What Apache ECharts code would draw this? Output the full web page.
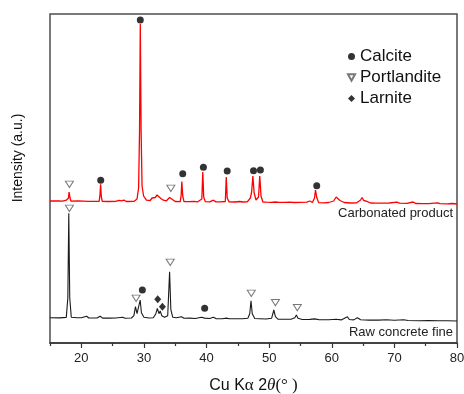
<!DOCTYPE html>
<html>
<head>
<meta charset="utf-8">
<script src="https://cdn.jsdelivr.net/npm/echarts@6/dist/echarts.min.js"></script>
<style>
  html, body { margin: 0; padding: 0; background: #fff; }
  #chart { width: 464px; height: 394px; }
</style>
</head>
<body>
<div id="chart"></div>
<script>
// XRD patterns, [2theta, intensity (a.u.)], intensity relative to each trace's own baseline
const carbonatedPattern = [
  [15, 0], [16.4, 2], [17.0, -1], [17.6, 8], [17.8, -1], [17.95, 30], [18.05, 90], [18.2, 30], [18.35, -2],
  [19.5, 0], [20.4, -1], [20.7, 10], [21.0, -3], [22.2, -3], [22.85, -4], [22.98, 60], [23.08, 168], [23.2, 40], [23.35, -4],
  [24.3, -5], [25.5, -4], [26.0, 6], [26.4, 2], [26.8, 8], [27.2, -5], [28.4, -4], [28.9, 20], [29.15, 130], [29.3, 700],
  [29.42, 1770], [29.55, 700], [29.7, 150], [29.95, 50], [30.4, 8], [31.0, 5], [31.3, 30], [31.5, 20], [31.8, 35],
  [32.1, 60], [32.4, 50], [32.7, 25], [33.1, 8], [33.6, 2], [34.1, 35], [34.4, 15], [35.0, -5], [35.8, -7],
  [35.95, 60], [36.05, 195], [36.2, 50], [36.4, -6], [37.2, -6], [38.0, -4], [38.6, -8], [39.25, 20], [39.4, 290],
  [39.55, 40], [39.8, -6], [40.5, -9], [41.1, 8], [41.5, -9], [42.2, -9], [43.0, -5], [43.15, 240], [43.3, 30],
  [43.6, -9], [44.5, -10], [45.3, -5], [45.8, -10], [46.5, -8], [47.0, 30], [47.2, 90], [47.4, 250], [47.6, 80],
  [47.9, 10], [48.3, 40], [48.5, 250], [48.7, 50], [49.0, -10], [49.6, -12], [50.3, -13], [51.0, -10], [51.6, -14],
  [52.5, -14], [53.3, -12], [54.0, -15], [55.0, -14], [56.0, -12], [56.5, 0], [56.9, -15], [57.25, 30], [57.4, 110],
  [57.6, 35], [57.9, -16], [58.8, -18], [59.5, -15], [60.3, 0], [60.7, 40], [61.0, 20], [61.3, 5], [61.6, 10],
  [62.0, -15], [63.0, -20], [64.0, -18], [64.6, 10], [64.85, 35], [65.1, 5], [65.5, -2], [65.75, 5], [66.2, -20],
  [67.0, -21], [68.0, -22], [69.2, -20], [70.4, -12], [70.8, -22], [72.0, -24], [73.0, -10], [73.4, -25],
  [74.5, -27], [75.5, -26], [76.9, -18], [77.3, -27], [78.5, -29], [79.2, -25], [80, -30]
];
const rawPattern = [
  [15, 0], [16.5, -2], [17.6, 3], [17.85, 200], [18.0, 1044], [18.15, 200], [18.4, 5], [19.3, -1], [20.0, 0],
  [20.85, 15], [21.2, -3], [22.5, -3], [23.0, 15], [23.4, -4], [24.5, -4], [25.5, -3], [26.6, 5], [27.0, -5],
  [28.0, -3], [28.4, 20], [28.65, 110], [28.9, 40], [29.1, 40], [29.4, 177], [29.6, 50], [30.0, 5], [30.8, -3],
  [31.5, 0], [31.9, 40], [32.15, 94], [32.4, 40], [32.6, 67], [32.85, 20], [33.3, 5], [33.8, 20], [34.1, 460],
  [34.3, 80], [34.6, 5], [35.2, 0], [36.0, 10], [36.4, -5], [37.3, -4], [38.2, -8], [39.2, 5], [39.45, 25],
  [39.7, -4], [40.5, -8], [41.1, 5], [41.5, -9], [42.5, -10], [43.2, -4], [43.6, -11], [44.6, -10], [45.7, -10],
  [46.6, -5], [46.9, 40], [47.1, 170], [47.3, 40], [47.7, -8], [48.5, -10], [49.5, -13], [50.4, -5], [50.75, 77],
  [51.0, 10], [51.4, -14], [52.5, -15], [53.5, -16], [54.1, 0], [54.35, 27], [54.6, -5], [55.3, -18], [56.5, -17],
  [57.3, -12], [58.0, -20], [59.5, -20], [60.7, -15], [61.5, -22], [62.5, 10], [62.8, -18], [63.5, -22], [64.1, 0],
  [64.3, 10], [64.6, -20], [66.0, -24], [67.5, -24], [68.7, -20], [70.0, -26], [71.5, -20], [71.8, -16], [72.2, -28],
  [74.0, -30], [75.5, -29], [77.0, -31], [78.5, -31], [80, -33]
];

// phase markers, [2theta, intensity] on the same scale as the pattern they sit over
const calciteCarbonated = [[23.1, 207], [29.42, 1810], [36.2, 273], [39.5, 337], [43.3, 300], [47.5, 303], [48.6, 310], [57.6, 153]];
const calciteRaw = [[29.75, 277], [39.7, 94]];
const portlanditeCarbonated = [[18.1, 167], [34.3, 127]];
const portlanditeRaw = [[18.1, 1094], [28.75, 194], [34.2, 554], [47.15, 244], [51.0, 150], [54.5, 100]];
const larniteRaw = [[32.2, 184], [32.95, 110]];

const carbonatedOffset = 1420;
const rawOffset = 253;

const majorTicks = [20, 30, 40, 50, 60, 70, 80];
const minorTicks = [15, 25, 35, 45, 55, 65, 75];

const shift = (arr, off) => arr.map(p => [p[0], p[1] + off]);

const chart = echarts.init(document.getElementById('chart'));
chart.setOption({
  animation: false,
  grid: {
    left: 50, right: 7, top: 14, bottom: 51,
    outerBoundsMode: 'none',
    show: true, borderColor: '#4d4d4d', borderWidth: 1.5
  },
  legend: {
    orient: 'vertical',
    left: 342, top: 43,
    itemWidth: 7, itemHeight: 7, itemGap: 4, itemTextGap: 12,
    textStyle: { fontFamily: 'Liberation Sans', fontSize: 17, color: '#111' },
    data: ['Calcite', 'Portlandite', 'Larnite']
  },
  xAxis: [
    {
      type: 'value', min: 15, max: 80, position: 'bottom',
      name: '{a|Cu K}{b|α}{a| 2}{c|θ}{b|(° )}',
      nameLocation: 'middle', nameGap: 34,
      nameTextStyle: {
        rich: {
          a: { fontFamily: 'Liberation Sans', fontSize: 16, color: '#111' },
          b: { fontFamily: 'Liberation Serif', fontSize: 17, color: '#111' },
          c: { fontFamily: 'Liberation Serif', fontStyle: 'italic', fontSize: 17, color: '#111' }
        }
      },
      axisLine: { lineStyle: { color: '#333', width: 1.5 } },
      axisTick: { customValues: majorTicks, length: 5, lineStyle: { color: '#333', width: 1.2 } },
      axisLabel: {
        customValues: majorTicks, margin: 9,
        fontFamily: 'Liberation Sans', fontSize: 13, color: '#222'
      },
      splitLine: { show: false }
    },
    {
      type: 'value', min: 15, max: 80, position: 'bottom',
      axisLine: { show: false },
      axisTick: { customValues: minorTicks, length: 3, lineStyle: { color: '#333', width: 1.2 } },
      axisLabel: { show: false },
      splitLine: { show: false }
    }
  ],
  yAxis: {
    type: 'value', min: 0, max: 3290,
    axisLine: { show: false }, axisTick: { show: false },
    axisLabel: { show: false }, splitLine: { show: false }
  },
  graphic: [
    {
      type: 'text', x: 18, y: 158, rotation: Math.PI / 2,
      style: { text: 'Intensity (a.u.)', align: 'center', verticalAlign: 'middle',
        font: '14px "Liberation Sans"', fill: '#111' }
    },
    {
      type: 'text', x: 453, y: 213,
      style: { text: 'Carbonated product', align: 'right', verticalAlign: 'middle',
        font: '13px "Liberation Sans"', fill: '#222' }
    },
    {
      type: 'text', x: 453, y: 332,
      style: { text: 'Raw concrete fine', align: 'right', verticalAlign: 'middle',
        font: '13px "Liberation Sans"', fill: '#222' }
    }
  ],
  series: [
    {
      name: 'Carbonated product', type: 'line', showSymbol: false,
      lineStyle: { color: '#ff0000', width: 1.3 },
      data: shift(carbonatedPattern, carbonatedOffset)
    },
    {
      name: 'Raw concrete fine', type: 'line', showSymbol: false,
      lineStyle: { color: '#1a1a1a', width: 1.1 },
      data: shift(rawPattern, rawOffset)
    },
    {
      name: 'Calcite', type: 'scatter', symbol: 'circle', symbolSize: 7,
      itemStyle: { color: '#000' },
      data: shift(calciteCarbonated, carbonatedOffset).concat(shift(calciteRaw, rawOffset))
    },
    {
      name: 'Portlandite', type: 'scatter', symbol: 'path://M0,0L10,0L5,9Z', symbolSize: [8, 7],
      symbolKeepAspect: true,
      itemStyle: { color: '#fff', borderColor: '#555', borderWidth: 1 },
      data: shift(portlanditeCarbonated, carbonatedOffset).concat(shift(portlanditeRaw, rawOffset))
    },
    {
      name: 'Larnite', type: 'scatter', symbol: 'diamond', symbolSize: [7, 8],
      itemStyle: { color: '#000' },
      data: shift(larniteRaw, rawOffset)
    }
  ]
});
</script>
</body>
</html>
